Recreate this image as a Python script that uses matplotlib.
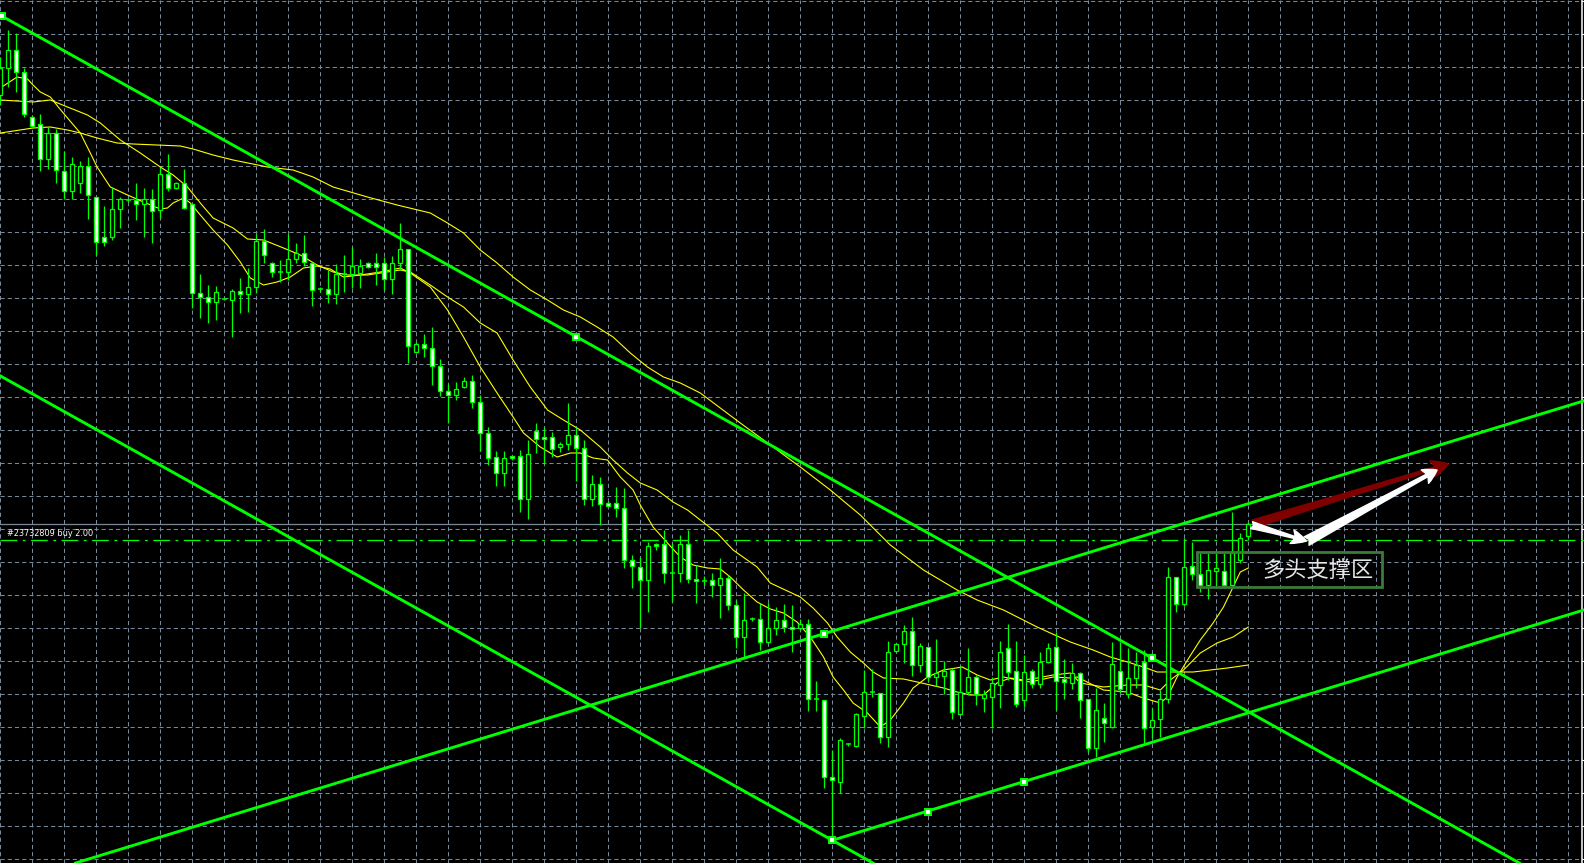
import numpy as np
import matplotlib
matplotlib.use("Agg")
import matplotlib.pyplot as plt
from matplotlib.patches import Rectangle

# ---- candle data (price in points, one bar per index) ----
opens = [905, 931.7, 950, 928.3, 883.3, 875.7, 840.7, 866.7, 829.3, 809.3,
         817.3, 833.5, 803.3, 763.3, 763.3, 790.7, 800, 800, 796, 800.7,
         790, 826, 812.3, 816.7, 796, 706.7, 703.3, 698.3, 701, 700,
         709.3, 705.7, 712.7, 759.3, 736.7, 727.7, 727.7, 740.7, 747.3, 737.3,
         710.7, 710.7, 706, 726, 726, 726.7, 736.7, 736.7, 736.7, 720.7,
         737.3, 750.7, 648.3, 656, 651.7, 634, 609.3, 605, 613.3, 618.5,
         598.3, 566.7, 542.7, 526.7, 544, 544, 500.7, 569, 562.7, 562.7,
         552.7, 555.7, 565, 551.7, 500.7, 515.7, 496.7, 496.7, 491.7, 440,
         433.3, 420, 455.7, 455.7, 426.7, 426.7, 455.7, 420.7, 419.3, 420,
         415, 421.7, 395, 362.7, 381, 380.7, 357.7, 371.7, 379.5, 372.7,
         371.7, 376, 300.7, 300, 222.7, 218.3, 255.7, 254.3, 284.3, 307.7,
         307.3, 262.7, 349.3, 355.7, 369.3, 335, 353.3, 322.7, 324.3, 330,
         285.7, 308.3, 323.3, 302.3, 302.7, 315, 351.7, 329, 300, 329,
         315.7, 338.3, 352.7, 320.7, 317.3, 326.7, 300.7, 251.7, 281.7, 272.7,
         329.3, 306, 321.7, 338.3, 273.3, 280.7, 300.7, 422.7, 395.7, 434.3,
         426, 415, 429.3, 429, 415, 440, 464.3]
highs = [943, 970, 967, 932, 885, 885.7, 873.3, 870.7, 849.3, 843,
         839.3, 842.5, 803.3, 794, 813.3, 803.3, 802, 817.3, 811.7, 810.7,
         832.7, 846, 818, 830.7, 796, 726, 715, 714, 702, 710.7,
         721.7, 731.7, 766, 770.7, 738.3, 740, 765.7, 756.7, 764.7, 738.3,
         713, 730, 736, 745, 752.7, 740.7, 738, 747.3, 743.3, 744,
         777.3, 750.7, 658, 666, 673.3, 640.7, 616, 618.3, 622.7, 625,
         605, 572.5, 549.3, 548.5, 545, 549.7, 560, 577.3, 572.7, 568.3,
         558.3, 597.3, 573.3, 560, 525, 522.7, 499.3, 512.7, 511.7, 445,
         443.3, 457.7, 456.7, 470, 456.7, 465, 470, 435, 424, 427.3,
         441.7, 425, 400, 406.7, 383.3, 396.7, 396.7, 393.3, 396, 395,
         381, 381, 319, 300, 250, 262.3, 257.3, 287.3, 330, 330.7,
         307.3, 359, 357.3, 375, 382.7, 357.3, 353.3, 360.7, 339.3, 331.7,
         334, 352.3, 325, 310, 322.7, 359, 376, 359, 345, 330.7,
         348.3, 357.3, 368.3, 340.7, 336.7, 328.3, 300.7, 311.7, 296.7, 358.3,
         358.3, 351.7, 348.3, 350, 291.7, 310, 433.3, 422.7, 461.7, 458.3,
         446.7, 446.7, 446.7, 446.7, 488.3, 466.7, 478.3]
lows = [895, 913.3, 908, 883.3, 873, 829.3, 830.7, 816.7, 800.7, 801,
        806.7, 780.5, 745, 754, 760, 771.7, 798, 780, 763.3, 756.7,
        781.7, 809.3, 811, 790.7, 691.7, 681.7, 677.3, 680, 700, 663.3,
        687.3, 688.3, 707.3, 737.3, 723.3, 718.3, 720, 737.3, 734, 694.3,
        708, 697.3, 695.7, 708.3, 711.7, 711.7, 731.5, 715, 710, 706,
        730, 636.7, 647, 643.3, 615, 604, 577.3, 600, 611.7, 591.7,
        549, 534.5, 514, 514, 540, 488.3, 480.7, 547.3, 536, 543.3,
        548.3, 550, 519.3, 495, 494, 475, 493.3, 482.7, 431.7, 411.7,
        371.7, 388.3, 450, 416.7, 398.3, 418.3, 416.7, 396.7, 415, 403.3,
        381.7, 390, 351.7, 341.7, 379.3, 350, 356.7, 365, 368.3, 348,
        370, 289.3, 289.3, 211.7, 159.7, 207.3, 254, 252.7, 271.7, 303.3,
        256.7, 253.3, 348.3, 336.7, 324, 328.3, 319, 314, 306, 281,
        285, 305, 295, 288.3, 271.7, 291.7, 320, 292.7, 293.3, 311.7,
        311.7, 336.7, 290, 300.7, 310.7, 281.7, 248.3, 243.3, 258.3, 271.7,
        306.7, 301.7, 311.7, 256.7, 261.7, 262.7, 296.7, 388.3, 394, 420,
        408.3, 400.7, 413.3, 411.7, 413.3, 436.7, 460]
closes = [932, 950, 928.3, 885.7, 874.3, 840.7, 866.7, 830, 809.3, 835.7,
          834, 805, 757.7, 757.7, 790.7, 800.7, 800, 796, 800.7, 789.3,
          826, 812.3, 816.7, 791.7, 706.7, 703.3, 698.3, 708.3, 701, 709.3,
          705.7, 712.7, 759.3, 745, 728.3, 727.7, 740.7, 746.7, 737.7, 710,
          710.7, 706, 726, 726, 734, 734.3, 732.7, 733.3, 720.7, 736.7,
          750.7, 654, 656, 651.7, 634, 609.3, 605, 610.7, 618.5, 598.3,
          566.7, 541.7, 526.7, 541.7, 541.7, 500.7, 546, 560.7, 560.7, 550.7,
          556, 565, 551.7, 500.7, 515.7, 495.7, 494.3, 491.7, 440, 434,
          420, 454.3, 454, 426.7, 426.7, 455.7, 420.7, 418.7, 419.3, 415,
          421.7, 395, 362.7, 380, 381, 357.7, 371.7, 380, 372.7, 370.7,
          376, 300.7, 300.7, 222.7, 219.7, 260, 255.7, 285.7, 307.7, 307.7,
          262.7, 347.7, 355.7, 369.3, 335, 354, 322.7, 327.3, 329, 287.7,
          308.3, 322.7, 305.7, 305.7, 316.7, 347.7, 328.3, 295.7, 327.7, 316,
          338.3, 351.7, 319, 318, 326.7, 300, 251.7, 290, 276.7, 335.7,
          310.7, 321.7, 335, 271.7, 280, 300.7, 422.7, 396, 433.3, 426,
          415, 430, 431.7, 415, 447, 461.7, 475.7]

# ---- moving averages (bar index, price) ----
ma_fast_x = [0, 2.1, 3.4, 4.1, 5, 6.25, 7.25, 8.4, 10, 11.25, 12.1, 13.75, 15.9, 17.9,
             20, 20.9, 21.6, 22.9, 23.75, 25, 26.6, 28.4, 30, 31.25, 32.9, 34.6, 36.25,
             37.9, 39.6, 41.25, 42.9, 45, 47.5, 50, 51.25, 53.75, 55.9, 57.9, 60, 62.1,
             64.1, 65.4, 67.5, 69.6, 71.25, 72.5, 74.1, 75.9, 77.5, 79.1, 80, 81.6, 83.4,
             85, 86.6, 88.4, 90, 91.25, 92.9, 94.6, 96.25, 97.9, 99.6, 101.25, 102.9,
             104.1, 105.4, 106.6, 108.4, 110, 111.25, 112.9, 114.1, 115.9, 117.9, 120.25,
             122.1, 123.75, 125.4, 127.1, 128.75, 131.6, 133.75, 134.6, 136.6, 137.9,
             140.9, 142.5, 143.75, 145, 145.9, 147.1, 148.4, 150, 151.6, 152.9, 154.1,
             155, 156]
ma_fast_y = [912, 923, 921, 915, 908, 903, 893, 882, 867, 847, 833, 813, 805, 798,
             791, 792, 797, 802, 797, 785, 770, 755, 738, 722, 715, 718, 723,
             732, 734, 731, 723, 725, 728, 732, 727, 713, 690, 663, 633, 607,
             583, 567, 553, 543, 547, 547, 542, 540, 523, 510, 495, 473, 457,
             443, 435, 432, 431, 423, 410, 398, 391, 387, 378, 363, 343,
             323, 310, 297, 287, 273, 280, 297, 312, 323, 330, 333,
             325, 320, 323, 320, 318, 323, 322, 323, 315, 310,
             308, 303, 300, 297, 303, 323, 340, 360, 377, 393, 413,
             428, 432]
ma_mid_x = [0, 4.1, 6.25, 8.4, 10.9, 12.5, 15, 17.5, 20, 21.6, 23.4, 25, 26.6, 29.1,
            30.9, 32.9, 35.4, 37.5, 39.6, 41.6, 43.4, 45.9, 50, 51.25, 53.75, 55.9,
            57.9, 60, 62.1, 64.1, 66.25, 68.4, 70.4, 72.5, 75, 76.6, 78.4, 80, 82.1,
            84.1, 85.9, 87.5, 89.6, 91.6, 94.6, 96.25, 100, 101.6, 103.4, 104.6, 106.25,
            107.9, 109.1, 110.4, 112.9, 114.6, 116.25, 117.9, 119.6, 121.25, 122.9,
            124.6, 126.25, 127.9, 129.6, 131.6, 133.75, 135, 137.9, 140.9, 142.9, 145,
            146.25, 147.9, 150, 152.1, 154.1, 156]
ma_mid_y = [900, 898, 900, 893, 885, 877, 860, 847, 833, 825, 813, 797, 782, 772,
            761, 760, 752, 745, 735, 728, 725, 725, 730, 728, 715, 703,
            693, 677, 667, 640, 613, 590, 580, 570, 553, 540, 527, 517, 510,
            498, 490, 480, 467, 450, 433, 417, 403, 392, 377, 363, 348,
            337, 328, 322, 321, 318, 315, 312, 308, 305, 305,
            317, 322, 320, 322, 325, 327, 317, 313, 315, 315, 310,
            320, 330, 347, 357, 363, 373]
ma_slow_x = [0, 4.1, 6.25, 8.4, 10, 12.1, 14.6, 16.6, 22.5, 24.1, 26.6, 29.1, 33.4,
             36.6, 39.1, 41.6, 43.75, 45.9, 49.6, 53.75, 55.9, 57.9, 60, 62.1, 64.1,
             66.25, 68.4, 70.4, 72.5, 74.6, 76.6, 78.75, 80.9, 82.9, 85, 87.5, 92.5,
             96.6, 100, 103.75, 107.5, 111.25, 115.4, 119.6, 122.1, 125.4, 129.6,
             133.75, 136.6, 138.75, 140.9, 142.9, 144.6, 149.1, 151.25, 153.4, 156]
ma_slow_y = [867, 872, 873, 870, 867, 862, 857, 856, 854, 851, 845, 840, 833,
             830, 823, 813, 808, 803, 795, 787, 777, 767, 750, 737, 723,
             710, 700, 690, 683, 673, 663, 647, 633, 623, 617, 607, 577,
             553, 533, 510, 485, 455, 430, 410, 400, 390, 373,
             358, 350, 343, 338, 333, 328, 328, 330, 332, 335]

# ---- trend lines (two points each), anchors, order ----
desc_upper = [(0.175, 984), (143.9, 342.3)]
desc_lower = [(0, 624.1), (104, 159.7)]
asc_upper = [(102.96, 366.3), (197.6, 598.3)]
asc_lower_start = (104, 159.7)
anchors_x = [0.175, 71.96, 143.9, 102.96, 104, 115.9, 127.96]
anchors_y = [984, 663.3, 342.3, 366.3, 159.7, 188.3, 218.3]
order_price = 460
order_label = "#23732809 buy 2.00"
zone_label = "多头支撑区"
zone_box = (149.55, 413.3, 172.67, 448.3)   # x0, y0, x1, y1
arrow_red = [(156.6, 476), (181.0, 536)]
arrow_white1 = [(156.4, 475), (163.3, 459)]
arrow_white2 = [(163.3, 459), (179.6, 530)]

LIME = "#00ff00"
GRID = "#778899"

plt.rcParams["lines.scale_dashes"] = False

fig = plt.figure(figsize=(15.84, 8.63), dpi=100, facecolor="black")
ax = fig.add_axes([0, 0, 1, 1])
ax.set_facecolor("black")
ax.set_xlim(-0.0375, 197.9625)
ax.set_ylim(137, 1000)
ax.set_autoscale_on(False)

# grid
ax.set_xticks(np.arange(0, 197, 4))
ax.set_yticks(998.7 - 33 * np.arange(0, 27))
ax.grid(True, color=GRID, linewidth=0.75, linestyle=(0, (3, 2.2)))
ax.tick_params(length=0, labelleft=False, labelbottom=False)
for s in ax.spines.values():
    s.set_visible(False)
ax.set_axisbelow(True)

# price axis border on the right
ax.axvline(197.65, color="white", linewidth=1.1)
ax.hlines(998.7 - 33 * np.arange(0, 27), 197.65, 198.2, color="white", linewidth=0.8)

# bid line and order line
ax.axhline(closes[-1], color=GRID, linewidth=0.9, zorder=2)
ax.axhline(order_price, color=LIME, linewidth=0.9, linestyle=(0, (12, 4, 2, 4)), zorder=2)
ax.text(0.84, order_price + 1.5, order_label, color="white", fontsize=5.9,
        va="bottom", ha="left", zorder=6)

# moving averages
ax.plot(ma_slow_x, ma_slow_y, color="#ffff00", linewidth=0.8, zorder=3)
ax.plot(ma_mid_x, ma_mid_y, color="#ffff00", linewidth=0.8, zorder=3)
ax.plot(ma_fast_x, ma_fast_y, color="#ffff00", linewidth=0.8, zorder=3)

# candles
idx = np.arange(len(opens))
o = np.array(opens)
h = np.array(highs)
l = np.array(lows)
c = np.array(closes)
ax.vlines(idx, l, h, color=LIME, linewidth=0.9, zorder=4)
for i in idx:
    if abs(o[i] - c[i]) < 0.5:
        ax.hlines(o[i], i - 0.32, i + 0.32, color=LIME, linewidth=1.1, zorder=5)
        continue
    face = "white" if c[i] < o[i] else "black"
    ax.add_patch(Rectangle((i - 0.27, min(o[i], c[i])), 0.54, abs(o[i] - c[i]),
                           facecolor=face, edgecolor=LIME, linewidth=0.9, zorder=5))

# trend lines
lw_tl = 2.1
ax.axline(desc_upper[0], desc_upper[1], color=LIME, linewidth=lw_tl, zorder=4)
ax.axline(desc_lower[0], desc_lower[1], color=LIME, linewidth=lw_tl, zorder=4)
ax.axline(asc_upper[0], asc_upper[1], color=LIME, linewidth=lw_tl, zorder=4)
slope = (asc_upper[1][1] - asc_upper[0][1]) / (asc_upper[1][0] - asc_upper[0][0])
xe = 198.5
ax.plot([asc_lower_start[0], xe],
        [asc_lower_start[1], asc_lower_start[1] + slope * (xe - asc_lower_start[0])],
        color=LIME, linewidth=lw_tl, zorder=4, solid_capstyle="butt")
ax.plot(anchors_x, anchors_y, linestyle="none", marker="s", markersize=4.2,
        markerfacecolor="white", markeredgecolor=LIME, markeredgewidth=1.4, zorder=6)

# support zone box and label
x0, y0, x1, y1 = zone_box
ax.add_patch(Rectangle((x0, y0), x1 - x0, y1 - y0, fill=False,
                       edgecolor="#3b7a3b", linewidth=2.0, zorder=6))
ax.text(164.7, (y0 + y1) / 2 - 1, zone_label, color="#e6e6e6", fontsize=16,
        family=["Noto Sans CJK SC", "DejaVu Sans"], ha="center", va="center", zorder=7)

# arrows
ax.annotate("", xy=arrow_red[1], xytext=arrow_red[0],
            arrowprops=dict(arrowstyle="fancy,head_length=1.2,head_width=1.2,tail_width=0.6",
                            color="#800000", shrinkA=0, shrinkB=0, mutation_scale=10),
            zorder=8)
ax.annotate("", xy=arrow_white1[1], xytext=arrow_white1[0],
            arrowprops=dict(arrowstyle="fancy,head_length=1.1,head_width=1.0,tail_width=0.5",
                            color="white", shrinkA=0, shrinkB=0, mutation_scale=10),
            zorder=9)
ax.annotate("", xy=arrow_white2[1], xytext=arrow_white2[0],
            arrowprops=dict(arrowstyle="fancy,head_length=1.0,head_width=1.1,tail_width=0.7",
                            color="white", shrinkA=0, shrinkB=0, mutation_scale=10),
            zorder=9)

fig.savefig("out.png", dpi=100, facecolor="black")
